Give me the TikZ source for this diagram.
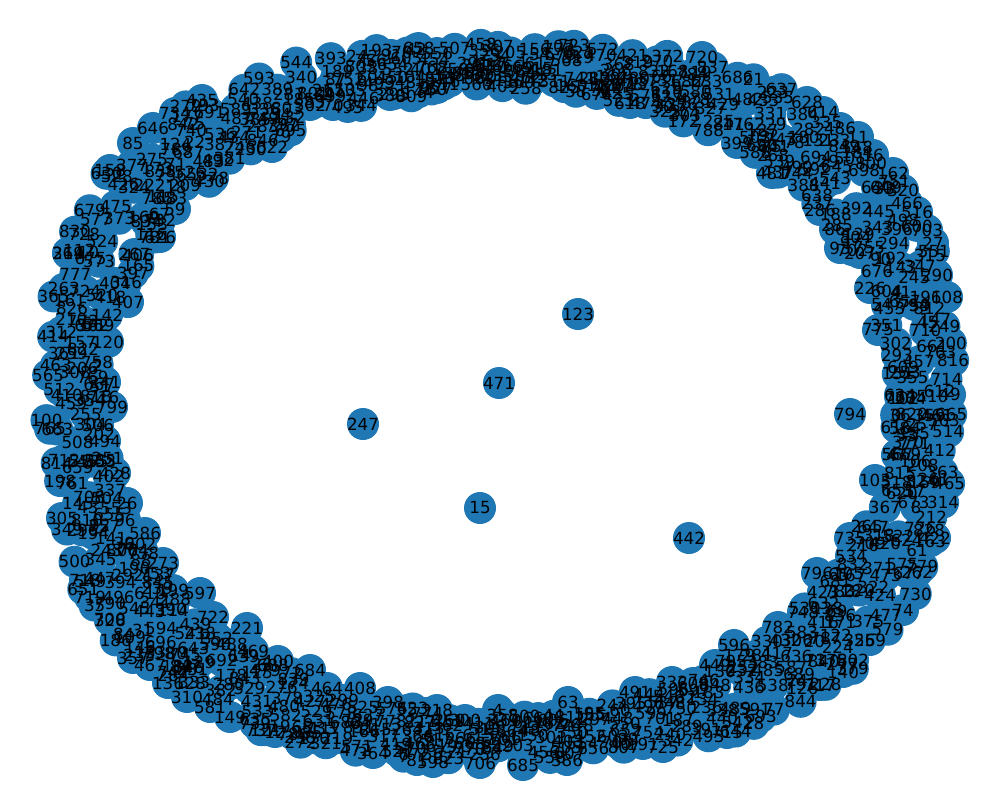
\documentclass[tikz,border=0pt]{standalone}
\usepackage{fontspec}
\setmainfont{DejaVu Sans}
\definecolor{nxblue}{HTML}{1F77B4}
\tikzset{
  dot/.style={circle, fill=nxblue, draw=none, minimum size=32pt, inner sep=0pt, outer sep=0pt},
  lbl/.style={font=\fontsize{16.7}{20}\selectfont, text=black, inner sep=0pt}
}
\def\explist{123/578/314, 471/499/383, 247/363/424, 15/480/508, 442/689/538, 794/850/414,
622/272/147, 82/290/125, 246/240/147, 271/247/132, 492/218/160, 278/213/178, 209/185/185,
59/175/209, 626/160/237, 153/152/224, 406/138/255, 115/163/197, 387/220/144, 749/263/118,
803/287/108, 502/310/105, 70/333/105, 526/190/172, 217/328/90, 135/350/90, 98/368/85,
380/390/95, 104/410/77, 227/437/88, 561/457/73, 808/492/77, 742/532/80, 269/517/68,
291/473/63, 768/432/67, 374/607/90, 618/630/103, 30/663/107, 741/580/78, 181/547/70,
405/633/80, 110/667/92, 303/685/115, 821/697/102, 399/737/143, 503/755/137, 268/773/155,
481/772/173, 744/797/173, 638/817/195, 286/820/210, 285/837/225, 93/840/248, 207/860/253,
676/877/271, 226/870/288, 614/823/112, 628/807/102, 486/840/128, 11/858/137, 16/873/155,
162/893/173, 320/903/190, 466/907/203, 516/917/212, 703/927/230, 27/933/243, 315/930/255,
290/937/275, 108/947/297, 548/857/147, 501/850/158, 640/877/187, 223/773/92, 720/702/57,
547/887/305, 775/878/330, 293/897/355, 609/903/367, 634/900/395, 36/900/415, 584/905/428,
370/908/442, 47/897/455, 103/875/480, 815/900/473, 653/897/490, 647/873/527, 735/850/538,
709/870/543, 534/851/556, 422/935/538, 796/817/573, 105/848/573, 262/917/572, 423/823/592,
748/803/612, 782/778/627, 596/734/645, 449/715/665, 491/635/692, 332/672/682, 608/693/683,
252/743/667, 138/827/608, 416/823/622, 306/797/640, 417/777/653, 60/620/710, 63/568/702,
555/590/715, 537/663/702, 715/727/733, 717/820/685, 140/843/672, 802/853/660, 559/870/640,
74/903/610, 725/663/747, 221/247/628, 352/217/638, 469/253/651, 400/278/661, 684/310/670,
464/327/688, 408/360/688, 398/388/702, 299/343/700, 55/407/710, 218/437/710, 4/498/710,
300/465/720, 339/503/720, 606/553/720, 76/570/725, 309/490/727, 451/448/722, 479/265/670,
12/275/732, 298/300/737, 581/210/707, 149/230/717, 739/255/723, 706/480/763, 685/523/765,
598/433/762, 81/417/760, 364/373/753, 571/357/747, 386/567/760, 506/98/425, 494/105/441,
585/100/460, 428/115/473, 337/110/490, 26/127/503, 96/125/520, 586/145/533, 738/143/553,
273/163/563, 845/158/582, 199/173/590, 597/200/593, 722/213/617, 114/173/610, 610/150/593,
238/200/633, 14/240/655, 357/133/658, 467/150/665, 136/168/683, 310/187/697, 128/190/683,
747/173/672, 346/188/667, 109/130/637, 146/140/647, 328/110/620, 790/110/603, 719/90/597,
718/85/580, 305/62/518, 397/133/273, 404/115/283, 407/128/302, 142/107/315, 562/93/325,
120/108/342, 758/97/362, 241/105/382, 799/112/407, 354/90/400, 369/68/253, 734/175/113,
85/133/143, 158/110/170, 435/202/100, 646/153/128}
\begin{document}
\begin{tikzpicture}[x=1pt, y=-1pt]
\useasboundingbox (0,0) rectangle (1000,800);
% mark explicitly placed nodes
\foreach \l/\x/\y in \explist {\expandafter\gdef\csname usedN\l\endcsname{1}}
% explicitly placed nodes
\foreach \l/\x/\y in \explist {\node[dot] (n\l) at (\x,\y) {};}
% remaining nodes of the ring (evenly spread, low-discrepancy sequence)
\pgfmathsetseed{12345}
\foreach \i in {0,...,849}{%
  \ifcsname usedN\i\endcsname\else
    \pgfmathsetmacro\ang{360*frac(\i*0.7548777)+3*rnd}%
    \pgfmathsetmacro\fr{0.10+0.90*frac(\i*0.5698403)}%
    \pgfmathsetmacro\cc{cos(\ang)}%
    \pgfmathsetmacro\ss{sin(\ang)}%
    \pgfmathsetmacro\ro{455/pow(pow(abs(\cc)+0.001,2.6)+pow(abs(\ss)*1.271+0.001,2.6),1/2.6)}%
    \pgfmathsetmacro\ri{390/sqrt(\cc*\cc+(\ss*1.266)*(\ss*1.266))}%
    \pgfmathsetmacro\rr{\ri+\fr*(\ro-\ri)}%
    \pgfmathsetmacro\px{500+\rr*\cc}%
    \pgfmathsetmacro\py{402+\rr*\ss}%
    \node[dot] (n\i) at (\px,\py) {};%
  \fi
}
% labels on top of all nodes
\foreach \i in {0,...,849}{\node[lbl] (t\i) at (n\i) {\i};}
\end{tikzpicture}
\end{document}
